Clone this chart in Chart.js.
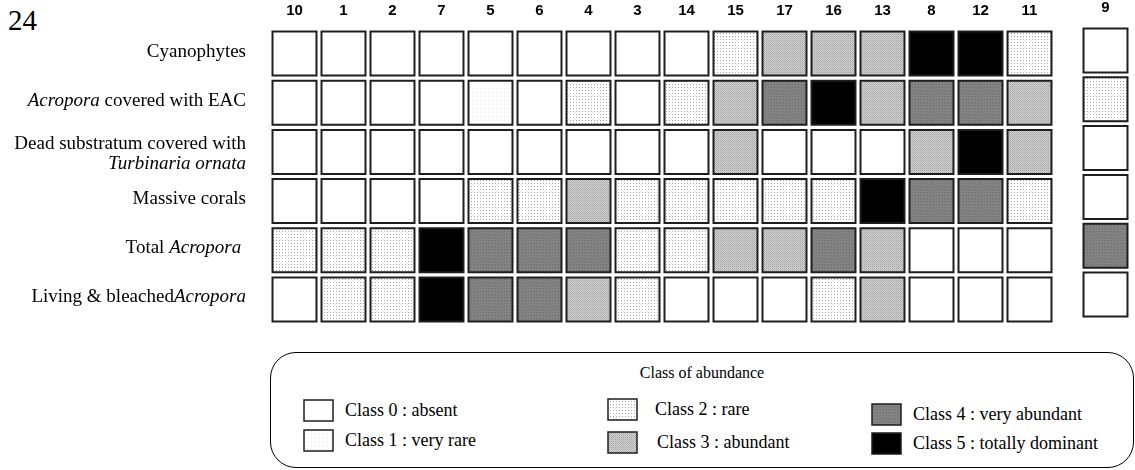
<!DOCTYPE html>
<html>
<head>
<meta charset="utf-8">
<script src="https://cdn.jsdelivr.net/npm/chart.js@4.4.1/dist/chart.umd.min.js"></script>
<style>
  body { margin: 0; background: #fff; width: 1135px; height: 470px; overflow: hidden; position: relative;
         font-family: "Liberation Serif", "Times New Roman", serif; color: #000; }
  #page { position: absolute; left: 8px; top: 6px; font-size: 29px; line-height: 1; }
  #main { position: absolute; left: 0; top: 0; }
  #side { position: absolute; left: 1060px; top: -3px; }
  #key { position: absolute; left: 270px; top: 352px; width: 864px; height: 116px;
         border: 1.5px solid #000; border-radius: 26px; box-sizing: border-box; }
  #key .ttl { position: absolute; top: 11px; left: 0; width: 100%; text-align: center; font-size: 16px; }
  #key canvas { position: absolute; }
  #key span { position: absolute; font-size: 18px; line-height: 22px; white-space: nowrap; }
</style>
</head>
<body>
<div id="page">24</div>
<canvas id="main" width="1062" height="335"></canvas>
<canvas id="side" width="75" height="335"></canvas>
<div id="key"><div class="ttl">Class of abundance</div></div>

<script>
'use strict';

const stations = ['10', '1', '2', '7', '5', '6', '4', '3', '14', '15', '17', '16', '13', '8', '12', '11', '9'];
const separateStations = ['9'];

// *...* = italic part, \n = line break
const rowLabels = [
  'Cyanophytes',
  '*Acropora* covered with EAC',
  'Dead substratum covered with\n*Turbinaria ornata*',
  'Massive corals',
  'Total *Acropora* ',
  'Living & bleached*Acropora*'
];

// abundance class (0-5) per station, same order as stations
const cyanophytes    = [0, 0, 0, 0, 0, 0, 0, 0, 0, 2, 3, 3, 3, 5, 5, 2, 0];
const acroporaEAC    = [0, 0, 0, 0, 1, 0, 2, 0, 2, 3, 4, 5, 3, 4, 4, 3, 2];
const turbinaria     = [0, 0, 0, 0, 0, 0, 0, 0, 0, 3, 0, 0, 0, 3, 5, 3, 0];
const massiveCorals  = [0, 0, 0, 0, 2, 2, 3, 2, 2, 2, 2, 2, 5, 4, 4, 2, 0];
const totalAcropora  = [2, 2, 2, 5, 4, 4, 4, 2, 2, 3, 3, 4, 3, 0, 0, 0, 4];
const livingAcropora = [0, 2, 2, 5, 4, 4, 3, 2, 0, 0, 0, 2, 3, 0, 0, 0, 0];
const rowValues = [cyanophytes, acroporaEAC, turbinaria, massiveCorals, totalAcropora, livingAcropora];

const classNames = [
  'Class 0 : absent', 'Class 1 : very rare', 'Class 2 : rare',
  'Class 3 : abundant', 'Class 4 : very abundant', 'Class 5 : totally dominant'
];

const plainLabels = rowLabels.map(l => l.replace(/\*/g, '').replace('\n', ' ').trim());

// fill textures for each class
function tile(size, base, dots) {
  const c = document.createElement('canvas');
  c.width = size; c.height = size;
  const g = c.getContext('2d');
  g.fillStyle = base;
  g.fillRect(0, 0, size, size);
  dots.forEach(d => { g.fillStyle = d[2]; g.fillRect(d[0], d[1], 1, 1); });
  return g.createPattern(c, 'repeat');
}
const fills = [
  '#ffffff',
  tile(4, '#ffffff', [[0, 0, '#e8e8e8']]),
  tile(3, '#ffffff', [[0, 0, '#a8a8a8']]),
  tile(2, '#d0d0d0', [[0, 0, '#a6a6a6'], [1, 1, '#b8b8b8']]),
  tile(3, '#848484', [[0, 0, '#6a6a6a'], [2, 1, '#777777']]),
  '#000000'
];

function buildDatasets(list) {
  return rowValues.map((vals, r) => ({
    label: plainLabels[r],
    data: stations
      .map((s, i) => ({ x: s, y: plainLabels[r], c: vals[i] }))
      .filter(p => list.includes(p.x)),
    pointStyle: 'rect',
    pointRadius: 31.1,
    pointHoverRadius: 31.1,
    pointBorderWidth: 2,
    pointBorderColor: '#1e1e1e',
    pointBackgroundColor: ctx => fills[ctx.raw ? ctx.raw.c : 0]
  }));
}

const labelRight = 246;
const rowLabelPlugin = {
  id: 'rowLabels',
  afterDraw(chart) {
    const ctx = chart.ctx;
    const y = chart.scales.y;
    const font = it => (it ? 'italic ' : '') + '19px "Liberation Serif", serif';
    ctx.save();
    ctx.fillStyle = '#000';
    ctx.textBaseline = 'middle';
    rowLabels.forEach((label, i) => {
      const lines = label.split('\n');
      const mid = y.getPixelForValue(i) + (lines.length > 1 ? 2 : -2);
      lines.forEach((line, k) => {
        const ly = mid + (k - (lines.length - 1) / 2) * 20;
        const segs = line.split('*').map((t, j) => ({ t, it: j % 2 === 1 }));
        let w = 0;
        segs.forEach(s => { ctx.font = font(s.it); s.w = ctx.measureText(s.t).width; w += s.w; });
        let x = labelRight - w;
        segs.forEach(s => { ctx.font = font(s.it); ctx.fillText(s.t, x, ly); x += s.w; });
      });
    });
    ctx.restore();
  }
};

function gridOptions(xLabels, axisHeight, yWidth, padding) {
  return {
    responsive: false,
    animation: false,
    events: [],
    layout: { padding: padding, autoPadding: false },
    plugins: { legend: { display: false }, tooltip: { enabled: false } },
    scales: {
      x: {
        type: 'category',
        labels: xLabels,
        position: 'top',
        offset: true,
        grid: { display: false, drawTicks: false },
        border: { display: false },
        ticks: { color: '#000', padding: 9, font: { family: '"Liberation Sans", Arial, sans-serif', size: 15, weight: 'bold' } },
        afterFit: s => { s.height = axisHeight; }
      },
      y: {
        type: 'category',
        labels: plainLabels,
        offset: true,
        grid: { display: false, drawTicks: false },
        border: { display: false },
        ticks: { display: false },
        afterFit: s => { s.width = yWidth; }
      }
    }
  };
}

const mainStations = stations.filter(s => !separateStations.includes(s));

new Chart(document.getElementById('main'), {
  type: 'scatter',
  data: { datasets: buildDatasets(mainStations) },
  options: gridOptions(mainStations, 29, 270, { left: 0, right: 8, top: 0, bottom: 11 }),
  plugins: [rowLabelPlugin]
});

new Chart(document.getElementById('side'), {
  type: 'scatter',
  data: { datasets: buildDatasets(separateStations) },
  options: gridOptions(separateStations, 29, 21, { left: 0, right: 5, top: 0, bottom: 13 })
});

// legend of classes
const key = document.getElementById('key');
const keyPos = [[32, 46], [32, 76], [336, 45], [336, 78], [600, 50], [600, 79]];
const keyGap = [11, 11, 17, 19, 11, 11];
classNames.forEach((name, c) => {
  const sw = document.createElement('canvas');
  sw.width = 31; sw.height = 23;
  const g = sw.getContext('2d');
  g.fillStyle = fills[c];
  g.fillRect(1, 1, 29, 21);
  g.strokeStyle = '#1e1e1e';
  g.lineWidth = 1.5;
  g.strokeRect(1, 1, 29, 21);
  sw.style.left = keyPos[c][0] + 'px';
  sw.style.top = keyPos[c][1] + 'px';
  key.appendChild(sw);
  const t = document.createElement('span');
  t.textContent = name;
  t.style.left = (keyPos[c][0] + 31 + keyGap[c]) + 'px';
  t.style.top = keyPos[c][1] + 'px';
  key.appendChild(t);
});
</script>
</body>
</html>
